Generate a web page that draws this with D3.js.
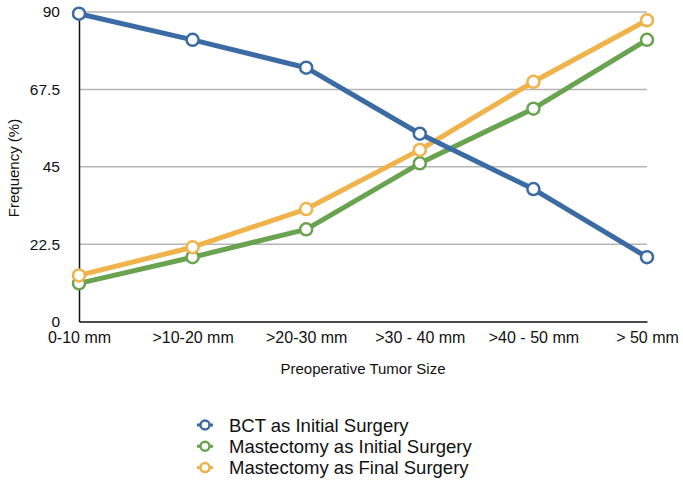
<!DOCTYPE html>
<html><head><meta charset="utf-8">
<script src="https://cdn.jsdelivr.net/npm/d3@7"></script>
<style>body{margin:0;background:#fff}svg{display:block}text{font-family:"Liberation Sans",Arial,sans-serif;fill:#111}</style>
</head><body><svg id="c" width="683" height="485"></svg>
<script>
const categories = ["0-10 mm", ">10-20 mm", ">20-30 mm", ">30 - 40 mm", ">40 - 50 mm", "> 50 mm"];
const bctInitial = [89.5, 81.9, 73.8, 54.6, 38.5, 18.7];
const mastInitial = [11.1, 18.7, 26.8, 46.0, 61.9, 81.9];
const mastFinal = [13.4, 21.6, 32.7, 49.9, 69.7, 87.6];
const yTicks = [0, 22.5, 45, 67.5, 90];
const seriesNames = ["BCT as Initial Surgery", "Mastectomy as Initial Surgery", "Mastectomy as Final Surgery"];
const seriesColors = ["#3b6ba5", "#6aa350", "#f0b24a"];

const svg = d3.select("#c");
const x = d3.scalePoint().domain(categories).range([79, 647]);
const y = d3.scaleLinear().domain([0, 90]).range([321.5, 12]);
const FF = '"Liberation Sans",Arial,sans-serif';

// grid
svg.append("g").selectAll("line").data(yTicks.filter(d => d > 0)).join("line")
  .attr("x1", 79).attr("x2", 647).attr("y1", d => y(d)).attr("y2", d => y(d))
  .attr("stroke", "#b5b5b5").attr("stroke-width", 1.5);

// y axis
const ya = svg.append("g").attr("transform", "translate(79,0)")
  .call(d3.axisLeft(y).tickValues(yTicks).tickSize(0).tickPadding(19).tickFormat(d => String(d)));
ya.select(".domain").attr("stroke", "#111").attr("stroke-width", 1.5);
ya.selectAll("text").style("font-size", "15.5px").style("font-family", FF).attr("fill", "#111");

// x axis
const xa = svg.append("g").attr("transform", "translate(0,321.5)")
  .call(d3.axisBottom(x).tickSize(0).tickPadding(10));
xa.select(".domain").attr("stroke", "#111").attr("stroke-width", 1.5);
xa.selectAll("text").style("font-size", "16px").style("font-family", FF).attr("fill", "#111");

svg.append("text").attr("x", 363).attr("y", 374).attr("text-anchor", "middle")
  .style("font-size", "15px").text("Preoperative Tumor Size");
svg.append("text").attr("transform", "translate(19,168) rotate(-90)").attr("text-anchor", "middle")
  .style("font-size", "15px").text("Frequency (%)");

const data = [bctInitial, mastInitial, mastFinal];
const line = d3.line().x((d, i) => x(categories[i])).y(d => y(d));
[1, 2, 0].forEach(k => {
  const g = svg.append("g");
  g.append("path").datum(data[k]).attr("d", line).attr("fill", "none")
    .attr("stroke", seriesColors[k]).attr("stroke-width", 5).attr("stroke-linejoin", "round");
  g.selectAll("circle").data(data[k]).join("circle")
    .attr("cx", (d, i) => x(categories[i])).attr("cy", d => y(d)).attr("r", 6)
    .attr("fill", "#fff").attr("stroke", seriesColors[k]).attr("stroke-width", 2.5);
});

// legend
const lg = svg.append("g");
seriesNames.forEach((n, i) => {
  const yy = 425 + i * 21.3;
  lg.append("line").attr("x1", 197).attr("x2", 213).attr("y1", yy).attr("y2", yy)
    .attr("stroke", seriesColors[i]).attr("stroke-width", 3);
  lg.append("circle").attr("cx", 205).attr("cy", yy).attr("r", 4.5)
    .attr("fill", "#fff").attr("stroke", seriesColors[i]).attr("stroke-width", 2.5);
  lg.append("text").attr("x", 229).attr("y", yy + 6.6).style("font-size", "18.5px").text(n);
});
</script></body></html>
